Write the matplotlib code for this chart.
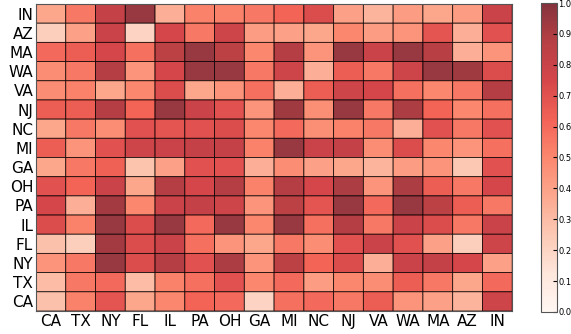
import numpy as np
import matplotlib
matplotlib.use('Agg')
import matplotlib.pyplot as plt

# columns (x axis) and rows (y axis, top to bottom)
cols = ['CA', 'TX', 'NY', 'FL', 'IL', 'PA', 'OH', 'GA', 'MI', 'NC', 'NJ', 'VA', 'WA', 'MA', 'AZ', 'IN']
rows = ['IN', 'AZ', 'MA', 'WA', 'VA', 'NJ', 'NC', 'MI', 'GA', 'OH', 'PA', 'IL', 'FL', 'NY', 'TX', 'CA']

r_in = [0.38, 0.55, 0.82, 0.95, 0.35, 0.52, 0.52, 0.55, 0.62, 0.72, 0.40, 0.33, 0.42, 0.38, 0.42, 0.80]
r_az = [0.22, 0.40, 0.80, 0.20, 0.75, 0.55, 0.78, 0.42, 0.40, 0.38, 0.50, 0.42, 0.45, 0.68, 0.35, 0.70]
r_ma = [0.60, 0.65, 0.75, 0.58, 0.85, 0.95, 0.85, 0.50, 0.88, 0.45, 0.95, 0.80, 0.95, 0.87, 0.35, 0.45]
r_wa = [0.48, 0.55, 0.88, 0.45, 0.75, 0.95, 0.95, 0.55, 0.78, 0.35, 0.65, 0.55, 0.78, 0.95, 0.93, 0.72]
r_va = [0.48, 0.52, 0.38, 0.50, 0.72, 0.38, 0.45, 0.58, 0.35, 0.65, 0.78, 0.75, 0.58, 0.50, 0.55, 0.88]
r_nj = [0.65, 0.65, 0.88, 0.62, 0.95, 0.80, 0.70, 0.45, 0.93, 0.47, 0.95, 0.55, 0.90, 0.62, 0.50, 0.58]
r_nc = [0.38, 0.55, 0.48, 0.70, 0.68, 0.70, 0.72, 0.50, 0.60, 0.47, 0.52, 0.55, 0.35, 0.70, 0.55, 0.70]
r_mi = [0.65, 0.45, 0.70, 0.78, 0.80, 0.82, 0.82, 0.52, 0.95, 0.80, 0.82, 0.48, 0.72, 0.50, 0.45, 0.58]
r_ga = [0.38, 0.55, 0.63, 0.27, 0.40, 0.70, 0.70, 0.35, 0.48, 0.40, 0.38, 0.33, 0.42, 0.45, 0.25, 0.70]
r_oh = [0.70, 0.62, 0.80, 0.38, 0.88, 0.75, 0.88, 0.52, 0.88, 0.75, 0.90, 0.45, 0.90, 0.65, 0.55, 0.75]
r_pa = [0.75, 0.35, 0.92, 0.50, 0.80, 0.82, 0.78, 0.45, 0.85, 0.68, 0.95, 0.60, 0.95, 0.85, 0.65, 0.55]
r_il = [0.72, 0.52, 0.95, 0.72, 0.95, 0.60, 0.95, 0.50, 0.95, 0.58, 0.88, 0.55, 0.80, 0.72, 0.55, 0.80]
r_fl = [0.28, 0.22, 0.92, 0.72, 0.80, 0.58, 0.45, 0.38, 0.55, 0.48, 0.70, 0.80, 0.70, 0.40, 0.22, 0.78]
r_ny = [0.45, 0.55, 0.95, 0.72, 0.88, 0.70, 0.90, 0.45, 0.85, 0.62, 0.72, 0.35, 0.80, 0.82, 0.75, 0.40]
r_tx = [0.30, 0.55, 0.60, 0.30, 0.52, 0.58, 0.70, 0.50, 0.60, 0.42, 0.50, 0.48, 0.65, 0.55, 0.38, 0.60]
r_ca = [0.28, 0.52, 0.68, 0.38, 0.50, 0.62, 0.60, 0.20, 0.58, 0.60, 0.55, 0.65, 0.45, 0.40, 0.33, 0.78]

data = np.array([r_in, r_az, r_ma, r_wa, r_va, r_nj, r_nc, r_mi,
                 r_ga, r_oh, r_pa, r_il, r_fl, r_ny, r_tx, r_ca])

fig = plt.figure(figsize=(5.71, 3.34), dpi=100)
ax = fig.add_axes([0.063, 0.069, 0.834, 0.919])
cax = fig.add_axes([0.947, 0.066, 0.028, 0.925])

mesh = ax.pcolor(data, cmap='Reds', vmin=0, vmax=1, alpha=0.8,
                 edgecolors='k', linewidth=0.6)
ax.set_xlim(0, len(cols))
ax.set_ylim(0, len(rows))
ax.invert_yaxis()
ax.set_xticks(np.arange(len(cols)) + 0.5)
ax.set_xticklabels(cols, fontsize=11)
ax.set_yticks(np.arange(len(rows)) + 0.5)
ax.set_yticklabels(rows, fontsize=11)
ax.tick_params(length=0, pad=2)
for s in ax.spines.values():
    s.set_color('#555555')

cb = fig.colorbar(mesh, cax=cax, ticks=np.linspace(0, 1, 11))
cb.ax.tick_params(labelsize=6, length=3, direction='in', pad=1)
cb.outline.set_edgecolor('#555555')

fig.savefig('out.png', dpi=100)
